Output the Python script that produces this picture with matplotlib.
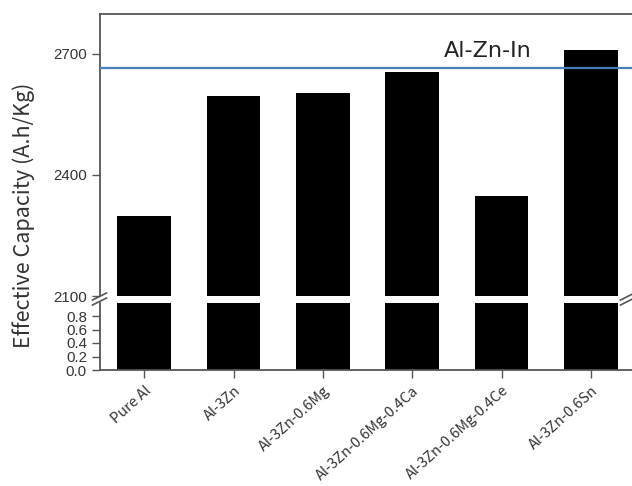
import matplotlib
matplotlib.use("Agg")
import matplotlib.pyplot as plt
import matplotlib.transforms as mtransforms
import numpy as np

categories = ["Pure Al", "Al-3Zn", "Al-3Zn-0.6Mg", "Al-3Zn-0.6Mg-0.4Ca",
              "Al-3Zn-0.6Mg-0.4Ce", "Al-3Zn-0.6Sn"]
capacity = [2298, 2596, 2602, 2654, 2347, 2709]
reference_value = 2665
reference_label = "Al-Zn-In"
upper_ticks = [2100, 2400, 2700]
lower_ticks = [0.0, 0.2, 0.4, 0.6, 0.8]

W, H = 632, 486
fig = plt.figure(figsize=(W / 100, H / 100), dpi=100)
fig.patch.set_facecolor("white")

def fx(px):
    return px / W

def fy(py):
    return 1 - py / H

left = fx(99.5)
right = fx(635.5)
ax_top = fig.add_axes([left, fy(296), right - left, fy(13.5) - fy(296)])
ax_bot = fig.add_axes([left, fy(370), right - left, fy(302.5) - fy(370)])

x = np.arange(len(categories))
xlim = (-0.5, 5.5)
spine_col = "#555555"
tick_font = ["Liberation Sans", "DejaVu Sans"]
label_font = ["Noto Sans CJK KR", "DejaVu Sans"]

for ax in (ax_top, ax_bot):
    ax.bar(x, capacity, width=0.6, color="black", zorder=2)
    ax.set_xlim(*xlim)
    for s in ax.spines.values():
        s.set_color(spine_col)
        s.set_linewidth(1.3)
    ax.tick_params(axis="y", direction="out", length=5.5, width=1, color=spine_col,
                   labelcolor="#333333", pad=3.5)
    ax.tick_params(axis="x", direction="out", length=6, width=1, color=spine_col)

ax_top.set_ylim(2100, 2800)
ax_top.set_yticks(upper_ticks)
ax_top.set_yticklabels([str(t) for t in upper_ticks], fontsize=10.8, family=tick_font)
ax_top.spines["bottom"].set_visible(False)
ax_top.spines["right"].set_visible(False)
ax_top.tick_params(axis="x", bottom=False, labelbottom=False)
ax_top.axhline(reference_value, color="#4a7ebb", lw=1.6, zorder=3)
ax_top.text(3.84, reference_value + 27, reference_label, ha="center", va="baseline",
            fontsize=16, family=["DejaVu Sans"], color="#222222")

ax_bot.set_ylim(0, 1.0)
ax_bot.set_yticks(lower_ticks)
ax_bot.set_yticklabels([f"{t:.1f}" for t in lower_ticks], fontsize=10.8, family=tick_font)
ax_bot.spines["top"].set_visible(False)
ax_bot.spines["right"].set_visible(False)
ax_bot.set_xticks(x)
ax_bot.set_xticklabels(categories, rotation=42, ha="right", va="center",
                       rotation_mode="anchor",
                       fontsize=10.5, family=label_font, color="#333333")
ax_bot.tick_params(axis="x", pad=6)
offset = mtransforms.ScaledTranslation(5 / 100, -2 / 100, fig.dpi_scale_trans)
for lab in ax_bot.get_xticklabels():
    lab.set_transform(lab.get_transform() + offset)

fig.text(fx(24), fy(215), "Effective Capacity (A.h/Kg)", rotation=90,
         ha="center", va="center", fontsize=15.5, family=label_font,
         color="#333333", fontweight="light")

# break marks
for xp in (99.5, 627.5):
    for yp in (296.5, 301.5):
        fig.add_artist(plt.Line2D([fx(xp - 7), fx(xp + 7)], [fy(yp + 3.5), fy(yp - 3.5)],
                                  color=spine_col, lw=1.2))

fig.savefig("out.png", dpi=100, facecolor="white")
